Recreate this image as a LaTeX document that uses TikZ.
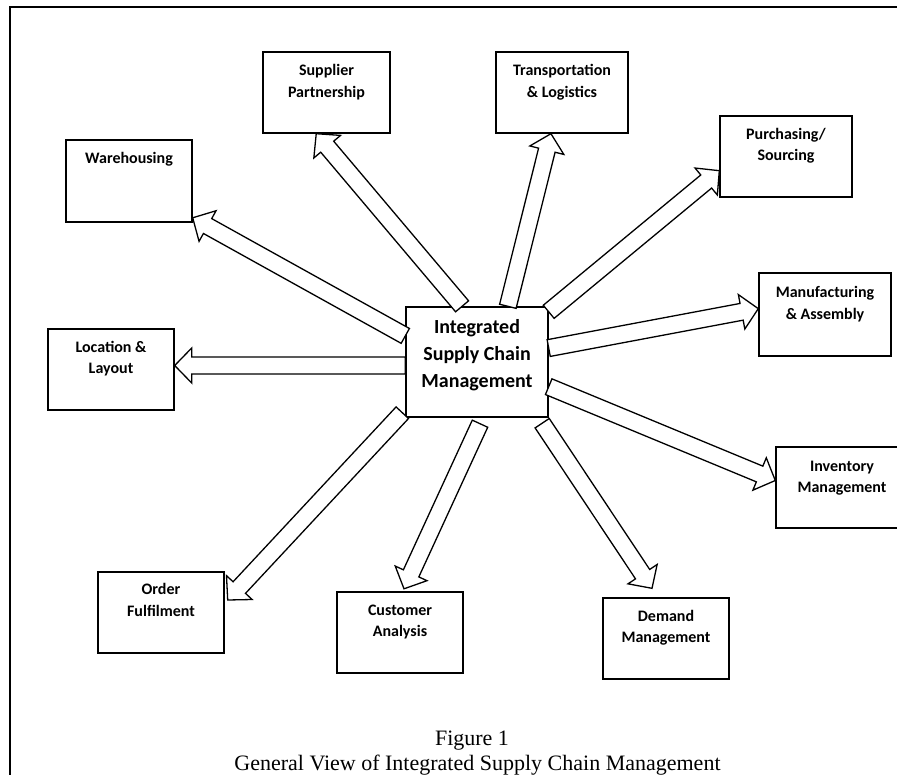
\documentclass[tikz,border=0pt]{standalone}
\usepackage{fontspec}
\setmainfont{Liberation Serif}
\newfontfamily\carlito{Carlito}
\usetikzlibrary{calc}
\tikzset{
  box/.style={draw, line width=1.4pt, inner sep=0pt, fill=white},
  boxtext/.style={font=\carlito\bfseries\fontsize{16}{21.7}\selectfont, align=center, anchor=base, inner sep=0pt},
  centertext/.style={font=\carlito\bfseries\fontsize{20}{27}\selectfont, align=center, anchor=base, inner sep=0pt},
  captext/.style={font=\fontsize{22}{26}\selectfont, anchor=base, inner sep=0pt},
  blockarrow/.style={draw, line width=1.3pt, fill=white, line join=miter},
  frame/.style={draw, line width=1.4pt}
}
\newcommand\barrow[2]{%
  \path #1 coordinate (bA) #2 coordinate (bB);
  \coordinate (bH) at ($(bB)!17pt!(bA)$);
  \draw[blockarrow] ($(bA)!8.5pt!90:(bB)$) -- ($(bH)!8.5pt!-90:(bA)$) -- ($(bH)!17.5pt!-90:(bA)$) -- (bB) -- ($(bH)!17.5pt!90:(bA)$) -- ($(bH)!8.5pt!90:(bA)$) -- ($(bA)!8.5pt!-90:(bB)$) -- cycle;
}
\begin{document}
\begin{tikzpicture}[x=1pt, y=-1pt]
\useasboundingbox (0,0) rectangle (897,774);
\begin{scope}
\clip (0,0) rectangle (897,774);
\draw[frame] (10,7) rectangle (920,800);

% boxes
\node[box, minimum width=127pt, minimum height=81pt] (sup) at (326.5,92.5) {};
\node[box, minimum width=132pt, minimum height=81pt] (trans) at (562,92.5) {};
\node[box, minimum width=126pt, minimum height=82pt] (ware) at (129,181) {};
\node[box, minimum width=132pt, minimum height=81pt] (purch) at (786,156.5) {};
\node[box, minimum width=132pt, minimum height=83pt] (manuf) at (825,314.5) {};
\node[box, minimum width=132pt, minimum height=81pt] (inv) at (842,487.5) {};
\node[box, minimum width=126pt, minimum height=81pt] (loc) at (111,369.5) {};
\node[box, minimum width=142pt, minimum height=110pt] (c) at (477,362) {};
\node[box, minimum width=126pt, minimum height=81pt] (order) at (161,612.5) {};
\node[box, minimum width=126pt, minimum height=81pt] (cust) at (400,632.5) {};
\node[box, minimum width=126pt, minimum height=81pt] (dem) at (666,638.5) {};

% texts (anchor base = baseline of the last line)
\node[boxtext] (sup-t) at ($(sup.north)+(0,46.2)$) {Supplier\\Partnership};
\node[boxtext] (trans-t) at ($(trans.north)+(0,46.2)$) {Transportation\\\& Logistics};
\node[boxtext] (ware-t) at ($(ware.north)+(0,24.3)$) {Warehousing};
\node[boxtext] (purch-t) at ($(purch.north)+(0,45.5)$) {Purchasing/\\Sourcing};
\node[boxtext] (manuf-t) at ($(manuf.north)+(0,46.7)$) {Manufacturing\\\& Assembly};
\node[boxtext] (inv-t) at ($(inv.north)+(0,46.4)$) {Inventory\\Management};
\node[boxtext] (loc-t) at ($(loc.north)+(0,45.6)$) {Location \&\\Layout};
\node[boxtext] (order-t) at ($(order.north)+(0,44.7)$) {Order\\Fulfilment};
\node[boxtext] (cust-t) at ($(cust.north)+(0,45.5)$) {Customer\\Analysis};
\node[boxtext] (dem-t) at ($(dem.north)+(0,45.4)$) {Demand\\Management};
\node[centertext] (c-t) at ($(c.north)+(0,81)$) {Integrated\\Supply Chain\\Management};

% arrows
\barrow{(c.160)}{(ware.-30)}
\barrow{(c.105)}{(sup.-104)}
\barrow{(c.61)}{(trans.-105)}
\barrow{(c.35)}{(purch.192)}
\barrow{(c.11)}{(manuf.175)}
\barrow{(c.-19)}{(inv.174)}
\barrow{($(c.south east)+(-6.5,5.5)$)}{($(dem.north)+(-14,-9)$)}
\barrow{($(c.south)+(3,6)$)}{($(cust.north)+(4,-2.5)$)}
\barrow{($(c.south west)+(-3,-5)$)}{($(order.east)+(3,-12.5)$)}
\barrow{($(c.west)+(0,3.5)$)}{($(loc.east)+(0,-4)$)}

% caption
\node[captext] (cap1) at (472,745) {Figure 1};
\node[captext] (cap2) at (477.5,770.5) {General View of Integrated Supply Chain Management};
\end{scope}
\end{tikzpicture}
\end{document}
